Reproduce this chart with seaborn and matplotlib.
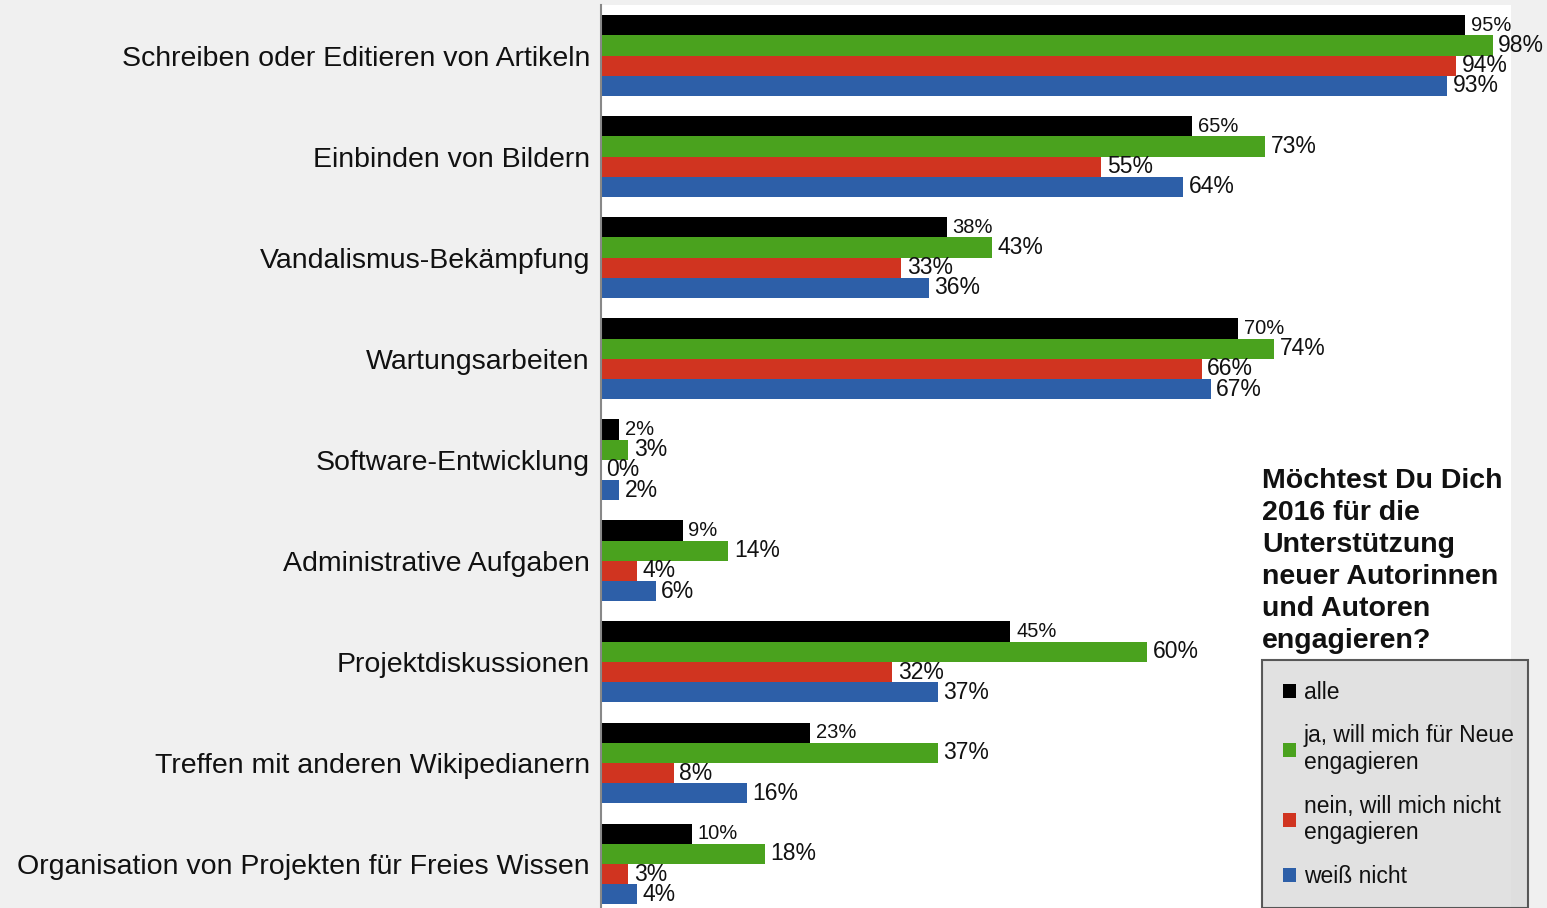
import matplotlib
matplotlib.use("Agg")
import matplotlib.pyplot as plt
import seaborn as sns
import pandas as pd

categories = [
    "Schreiben oder Editieren von Artikeln",
    "Einbinden von Bildern",
    "Vandalismus-Bekämpfung",
    "Wartungsarbeiten",
    "Software-Entwicklung",
    "Administrative Aufgaben",
    "Projektdiskussionen",
    "Treffen mit anderen Wikipedianern",
    "Organisation von Projekten für Freies Wissen",
]
series_names = [
    "alle",
    "ja, will mich für Neue\nengagieren",
    "nein, will mich nicht\nengagieren",
    "weiß nicht",
]
alle = [95, 65, 38, 70, 2, 9, 45, 23, 10]
ja = [98, 73, 43, 74, 3, 14, 60, 37, 18]
nein = [94, 55, 33, 66, 0, 4, 32, 8, 3]
weiss_nicht = [93, 64, 36, 67, 2, 6, 37, 16, 4]
colors = ["#000000", "#4aa21e", "#d03420", "#2d5fa8"]

rows = []
for name, vals in zip(series_names, [alle, ja, nein, weiss_nicht]):
    for cat, v in zip(categories, vals):
        rows.append({"Kategorie": cat, "Wert": v, "Gruppe": name})
df = pd.DataFrame(rows)

sns.set_style("white")
plt.rcParams["font.family"] = ["Liberation Sans", "DejaVu Sans"]
plt.rcParams["text.color"] = "#111111"

fig = plt.figure(figsize=(15.47, 9.08), dpi=100)
fig.patch.set_facecolor("#f0f0f0")
ax = fig.add_axes([0.3885, 0.0, 0.5882, 0.9945])
ax.set_facecolor("white")

sns.barplot(data=df, x="Wert", y="Kategorie", hue="Gruppe", orient="h",
            hue_order=series_names, order=categories, palette=colors,
            saturation=1, width=0.8, linewidth=0, ax=ax)

ax.set_xlim(0, 100)
ax.set_ylim(8.435, -0.5)
ax.set_xlabel("")
ax.set_ylabel("")
ax.set_xticks([])
ax.tick_params(axis="y", length=0, pad=8, labelsize=20.5, labelcolor="#111111")
for s in ["top", "right", "bottom"]:
    ax.spines[s].set_visible(False)
ax.spines["left"].set_color("#888888")
ax.spines["left"].set_linewidth(1.5)

for i, cont in enumerate(ax.containers):
    ax.bar_label(cont, fmt="%d%%", padding=4,
                 fontsize=14.5 if i == 0 else 16.5, color="#111111")

handles, labels = ax.get_legend_handles_labels()
ax.get_legend().remove()
leg = fig.legend(handles, labels, loc="upper left",
                 bbox_to_anchor=(0.816, -0.08, 0.172, 0.353), mode="expand",
                 frameon=True, fontsize=16.5, handlelength=0.55, handleheight=0.55,
                 handletextpad=0.35, labelspacing=0.9, borderpad=0.9,
                 borderaxespad=0, fancybox=False, labelcolor="#111111")
leg.get_frame().set_facecolor("#dadada")
leg.get_frame().set_edgecolor("#333333")
leg.get_frame().set_linewidth(1.5)

fig.text(0.816, 0.485,
         "Möchtest Du Dich\n2016 für die\nUnterstützung\nneuer Autorinnen\nund Autoren\nengagieren?",
         fontsize=20.5, fontweight="bold", va="top", ha="left", linespacing=1.3,
         color="#111111")

fig.savefig("out.png", dpi=100, facecolor=fig.get_facecolor())
